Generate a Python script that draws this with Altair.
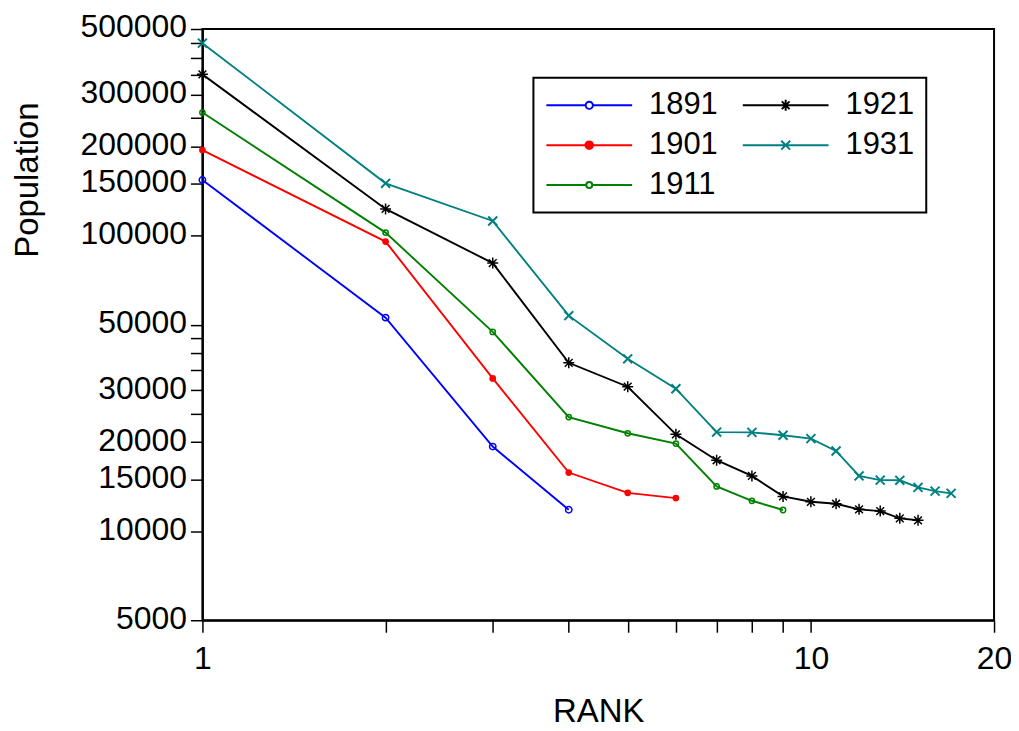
import altair as alt
import pandas as pd

# ---- data ----
years = ["1891", "1901", "1911", "1921", "1931"]
pop_1891 = [154200, 52800, 19340, 11820]
pop_1901 = [194700, 95500, 32880, 15800, 13490, 12950]
pop_1911 = [260900, 102400, 47250, 24340, 21450, 19800, 14180, 12680, 11800]
pop_1921 = [351200, 123100, 80750, 37130, 30830, 21280, 17390, 15390, 13120,
            12580, 12390, 11860, 11700, 11060, 10890]
pop_1931 = [447900, 150300, 112100, 53620, 38310, 30350, 21650, 21600, 21120,
            20580, 18690, 15390, 14890, 14870, 14070, 13670, 13430]
series = [pop_1891, pop_1901, pop_1911, pop_1921, pop_1931]

x_ticks = [1, 2, 3, 4, 5, 6, 7, 8, 9, 10, 20]
x_labels = [1, 10, 20]
y_ticks = [5000, 10000, 15000, 20000, 25000, 30000, 35000, 40000, 45000, 50000,
           100000, 150000, 200000, 250000, 300000, 350000, 400000, 450000, 500000]
y_labels = [5000, 10000, 15000, 20000, 30000, 50000, 100000, 150000, 200000,
            300000, 500000]

colors = {"1891": "#0000FF", "1901": "#FF0000", "1911": "#008000",
          "1921": "#000000", "1931": "#008080"}

rows = []
for yr, vals in zip(years, series):
    for i, v in enumerate(vals):
        rows.append({"Year": yr, "Rank": i + 1, "Population": v})
df = pd.DataFrame(rows)

FONT = "Liberation Sans"

legend_order = years
color_scale = alt.Scale(domain=legend_order, range=[colors[y] for y in legend_order])

# ---- legend symbols: line with marker (unit = 43 px) ----
U = 43.0


def circ(r):
    r = r / U
    return f"M{-r:.4f},0A{r:.4f},{r:.4f} 0 1,0 {r:.4f},0A{r:.4f},{r:.4f} 0 1,0 {-r:.4f},0Z"


def open_circle_sym(r):
    rr = r / U
    return f"M-1,0H{-rr:.4f}M{rr:.4f},0H1" + circ(r)


def asterisk_sym(r):
    a = r / U
    d = a * 0.7071
    return (f"M-1,0H1M0,{-a:.4f}V{a:.4f}M{-d:.4f},{-d:.4f}L{d:.4f},{d:.4f}"
            f"M{-d:.4f},{d:.4f}L{d:.4f},{-d:.4f}")


def cross_sym(r):
    d = r / U
    return f"M-1,0H1M{-d:.4f},{-d:.4f}L{d:.4f},{d:.4f}M{-d:.4f},{d:.4f}L{d:.4f},{-d:.4f}"


legend_shapes = {
    "1891": open_circle_sym(3.6),
    "1901": "M-1,0H1" + circ(3.8),
    "1911": open_circle_sym(3.0),
    "1921": asterisk_sym(5.5),
    "1931": cross_sym(4.5),
}
legend_fills = {"1891": "#FFFFFF", "1901": "#FF0000", "1911": "#FFFFFF",
                "1921": "#FFFFFF", "1931": "#FFFFFF"}

x_enc = alt.X(
    "Rank:Q",
    scale=alt.Scale(type="log", domain=[1, 20], nice=False),
    axis=alt.Axis(
        values=x_ticks,
        labelExpr="indexof(" + str(x_labels) + ", datum.value) >= 0 ? format(datum.value, 'd') : ''",
        title="RANK", grid=False, labelFlush=False, labelOverlap=False,
        tickSize=12, tickWidth=1.5, tickColor="black", domainColor="black",
        domainWidth=2, labelPadding=11, labelFont=FONT, labelFontSize=32,
        labelColor="black", titleFont=FONT, titleFontSize=33, titleFontWeight="normal",
        titleColor="black", titleBaseline="alphabetic", titleY=102,
    ),
)
y_enc = alt.Y(
    "Population:Q",
    scale=alt.Scale(type="log", domain=[5000, 500000], nice=False),
    axis=alt.Axis(
        values=y_ticks,
        labelExpr="indexof(" + str(y_labels) + ", datum.value) >= 0 ? format(datum.value, 'd') : ''",
        title="Population", grid=False, labelFlush=False, labelOverlap=False,
        tickSize=12, tickWidth=1.5, tickColor="black", domainColor="black",
        domainWidth=2, labelPadding=4, labelOffset=-2, labelFont=FONT,
        labelFontSize=32, labelColor="black", titleFont=FONT, titleFontSize=33,
        titleFontWeight="normal", titleColor="black", titleAngle=270,
        titleBaseline="alphabetic", titleX=-165, titleY=151,
    ),
)

base = alt.Chart(df)

line_layers = []
point_layers = []
marker_specs = {
    "1891": dict(shape="circle", size=41, filled=False, strokeWidth=1.5),
    "1901": dict(shape="circle", size=45, filled=True),
    "1911": dict(shape="circle", size=28, filled=False, strokeWidth=1.5),
    "1921": dict(shape="M0,-1V1M-1,0H1M-0.7071,-0.7071L0.7071,0.7071M-0.7071,0.7071L0.7071,-0.7071",
                 size=121, filled=False, strokeWidth=1.5),
    "1931": dict(shape="M-1,-1L1,1M-1,1L1,-1", size=81, filled=False, strokeWidth=2),
}
for i, yr in enumerate(years):
    sub = base.transform_filter(alt.datum.Year == yr)
    if i == 0:
        line_layers.append(sub.mark_line(strokeWidth=1.9, color=colors[yr]).encode(x=x_enc, y=y_enc))
    else:
        line_layers.append(sub.mark_line(strokeWidth=1.9, color=colors[yr]).encode(x="Rank:Q", y="Population:Q"))
    point_layers.append(
        sub.mark_point(color=colors[yr], opacity=1, **marker_specs[yr])
        .encode(x="Rank:Q", y="Population:Q")
    )

leg = alt.Legend(
    title=None, orient="none", legendX=332, legendY=49, columns=2,
    symbolSize=7396, symbolStrokeWidth=2, symbolOpacity=1, clipHeight=31,
    labelFont=FONT, labelFontSize=31, labelColor="black", labelOffset=16,
    labelBaseline="middle", padding=12, columnPadding=24, rowPadding=8,
    strokeColor="black", fillColor="white",
)

legend_layer = base.transform_filter("datum.Rank < 0").mark_point(
    filled=False, strokeWidth=2, opacity=1
).encode(
    color=alt.Color("Year:N", scale=color_scale, legend=leg),
    fill=alt.Fill("Year:N", scale=alt.Scale(domain=legend_order,
                                             range=[legend_fills[y] for y in legend_order]),
                  legend=leg),
    shape=alt.Shape("Year:N", scale=alt.Scale(domain=legend_order,
                                               range=[legend_shapes[y] for y in legend_order]),
                    legend=leg),
)

chart = alt.layer(*line_layers, *point_layers, legend_layer).properties(
    width=794, height=593,
    autosize=alt.AutoSizeParams(type="none"),
    padding={"left": 195, "top": 20, "right": 17, "bottom": 108},
    background="white",
).configure_view(stroke="black", strokeWidth=2).configure_legend(strokeWidth=2)

chart.save("out.html", embed_options={"renderer": "svg", "actions": False})
